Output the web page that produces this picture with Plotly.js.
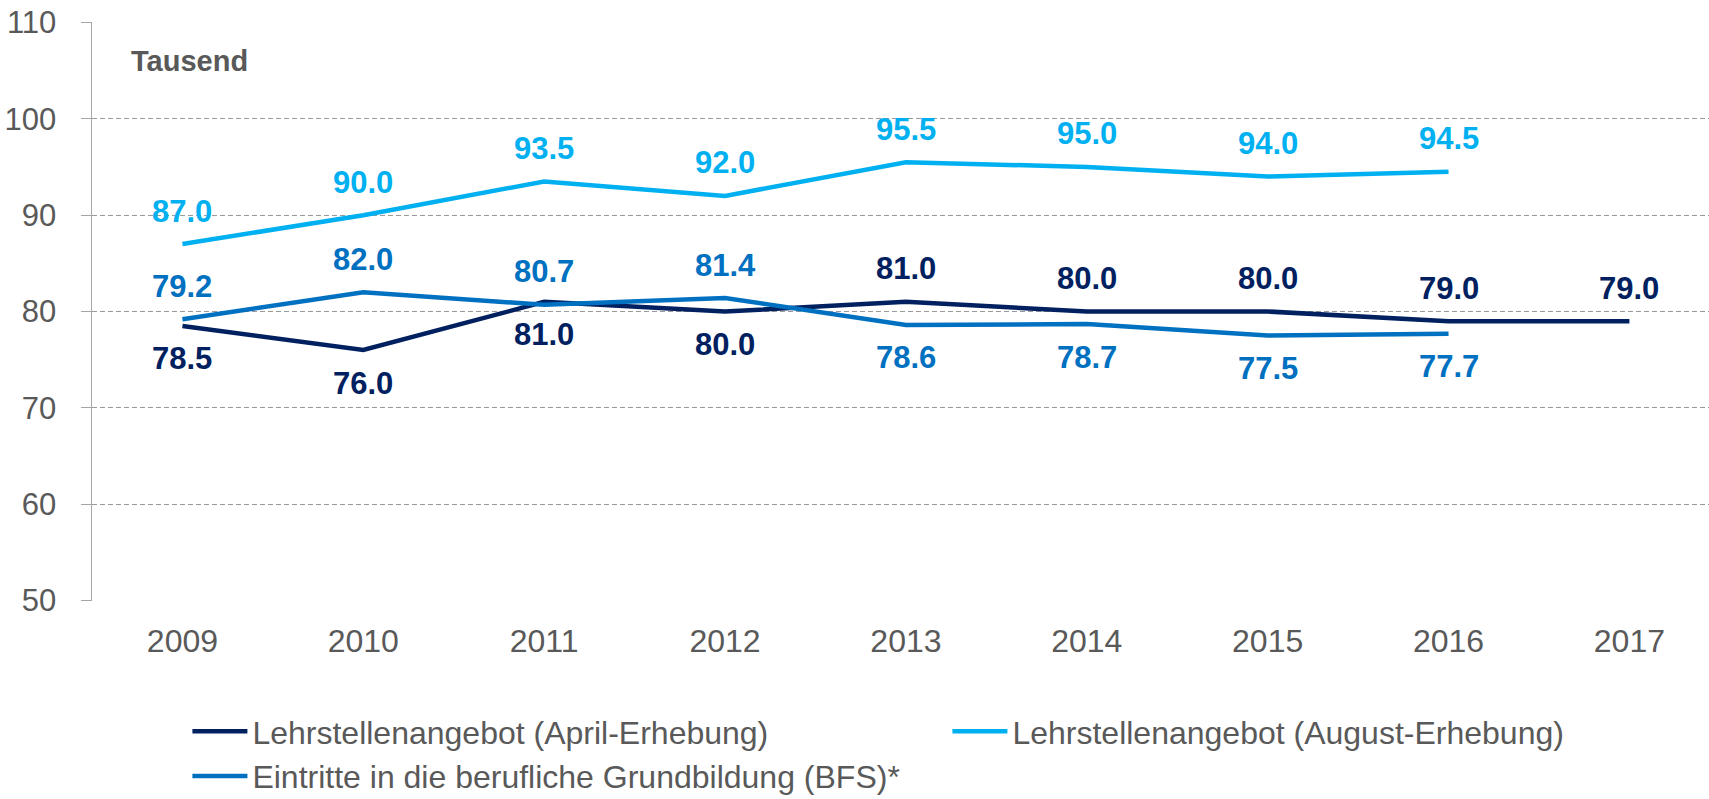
<!DOCTYPE html>
<html>
<head>
<meta charset="utf-8">
<script src="https://cdn.plot.ly/plotly-3.0.1.min.js"></script>
<style>
  html, body { margin: 0; padding: 0; background: #ffffff; }
  #chart { width: 1709px; height: 799px; }
</style>
</head>
<body>
<div id="chart"></div>
<script>
// ---- Data ----
const years = ['2009', '2010', '2011', '2012', '2013', '2014', '2015', '2016', '2017'];
const aprilValues = [78.5, 76.0, 81.0, 80.0, 81.0, 80.0, 80.0, 79.0, 79.0];
const augustValues = [87.0, 90.0, 93.5, 92.0, 95.5, 95.0, 94.0, 94.5, null];
const bfsValues = [79.2, 82.0, 80.7, 81.4, 78.6, 78.7, 77.5, 77.7, null];
const seriesNames = [
  'Lehrstellenangebot (April-Erhebung)',
  'Lehrstellenangebot (August-Erhebung)',
  'Eintritte in die berufliche Grundbildung (BFS)*'
];
const unitLabel = 'Tausend';
const yTicks = [50, 60, 70, 80, 90, 100, 110];

// label side: 1 = above the line, -1 = below
const aprilSide = [-1, -1, -1, -1, 1, 1, 1, 1, 1];
const augustSide = [1, 1, 1, 1, 1, 1, 1, 1, 1];
const bfsSide = [1, 1, 1, 1, -1, -1, -1, -1, -1];

// ---- Styles ----
const colors = ['#002060', '#00B0F0', '#0070C0'];
const FONT = 'Liberation Sans, Arial, sans-serif';
const textGray = '#595959';
const gridGray = '#9A9A9A';
const labelShift = 33;

const seriesValues = [aprilValues, augustValues, bfsValues];
const seriesSides = [aprilSide, augustSide, bfsSide];

const traces = seriesValues.map((vals, i) => ({
  type: 'scatter',
  mode: 'lines',
  x: years,
  y: vals,
  name: seriesNames[i],
  line: { color: colors[i], width: 4.5 },
  connectgaps: false,
  hoverinfo: 'x+y+name'
}));

const annotations = [];
seriesValues.forEach((vals, i) => {
  vals.forEach((v, j) => {
    if (v === null) return;
    annotations.push({
      x: j, y: v, xref: 'x', yref: 'y',
      text: '<b>' + v.toFixed(1) + '</b>',
      showarrow: false,
      xanchor: 'center', yanchor: 'middle',
      yshift: seriesSides[i][j] * labelShift,
      font: { family: FONT, size: 31, color: colors[i] }
    });
  });
});
annotations.push({
  x: 0.023, y: 0.933, xref: 'paper', yref: 'paper',
  xanchor: 'left', yanchor: 'middle',
  text: '<b>' + unitLabel + '</b>',
  showarrow: false,
  font: { family: FONT, size: 29, color: textGray }
});

const layout = {
  width: 1709,
  height: 799,
  margin: { l: 92, r: 0, t: 22, b: 198, autoexpand: false },
  paper_bgcolor: '#ffffff',
  plot_bgcolor: '#ffffff',
  font: { family: FONT, color: textGray },
  showlegend: true,
  legend: {
    orientation: 'h',
    x: 0.059, xanchor: 'left',
    y: -0.178, yanchor: 'top',
    font: { family: FONT, size: 32, color: textGray },
    itemwidth: 55,
    entrywidth: 690,
    entrywidthmode: 'pixels',
    traceorder: 'normal',
    bgcolor: 'rgba(0,0,0,0)'
  },
  xaxis: {
    type: 'category',
    range: [-0.5, 8.44],
    showgrid: false,
    showline: false,
    zeroline: false,
    ticks: '',
    tickfont: { family: FONT, size: 32, color: textGray },
    ticklabelstandoff: 18,
    fixedrange: true
  },
  yaxis: {
    range: [49.95, 110.05],
    tickvals: yTicks,
    showgrid: true,
    gridcolor: gridGray,
    griddash: '5px,3px',
    gridwidth: 1.3,
    showline: true,
    linecolor: '#A6A6A6',
    linewidth: 1.5,
    ticks: 'outside',
    ticklen: 10,
    tickcolor: '#A6A6A6',
    tickwidth: 1.3,
    zeroline: false,
    tickfont: { family: FONT, size: 31, color: textGray },
    ticklabelstandoff: 18,
    fixedrange: true
  },
  annotations: annotations
};

Plotly.newPlot('chart', traces, layout, { displayModeBar: false, staticPlot: true });
</script>
</body>
</html>
